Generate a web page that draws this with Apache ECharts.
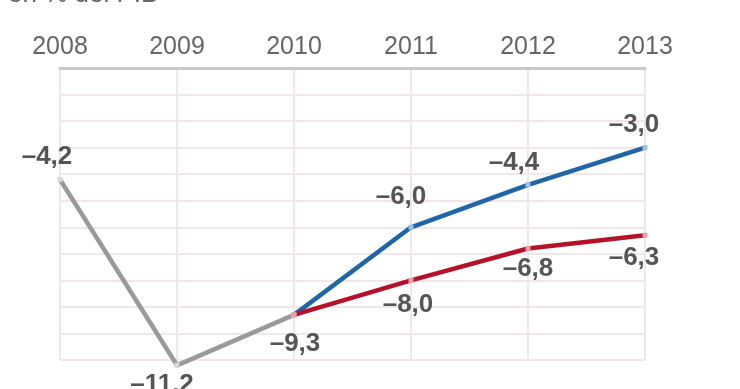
<!DOCTYPE html>
<html><head><meta charset="utf-8">
<script src="https://cdn.jsdelivr.net/npm/echarts@6/dist/echarts.min.js"></script>
<style>html,body{margin:0;padding:0;background:#fff}#c{width:740px;height:389px}</style>
</head><body><div id="c"></div>
<script>
var years = ['2008','2009','2010','2011','2012','2013'];
var actual = [-4.2, -11.2, -9.3, null, null, null];
var forecastA = [null, null, -9.3, -6.0, -4.4, -3.0];
var forecastB = [null, null, -9.3, -8.0, -6.8, -6.3];
var titleText = 'en % del PIB';

// label offsets (styling only)
var offActual = [[-13,-23],[-15,20],[1,29],null,null,null];
var offA = [null,null,null,[-10,-30],[-14,-22],[-11,-23]];
var offB = [null,null,null,[-3,24],[0,20],[-11,23]];

function fmt(v){ return '\u2013' + Math.abs(v).toFixed(1).replace('.', ','); }
function build(vals, offs){
  return vals.map(function(v,i){
    if (v === null) return null;
    var o = offs[i];
    return {value: v, label: o ? {show:true, offset:o} : {show:false}};
  });
}
var labelStyle = {position:'inside', formatter:function(p){return fmt(p.value);}, fontFamily:'Liberation Sans, Arial, sans-serif', fontWeight:'bold', fontSize:26, color:'#555'};

var chart = echarts.init(document.getElementById('c'));
chart.setOption({
  animation:false,
  grid:{left:60, right:95, top:68, bottom:29},
  graphic:[{type:'text', x:8, y:-18, style:{text:titleText, fontFamily:'Liberation Sans, Arial, sans-serif', fontSize:26, fill:'#666', textVerticalAlign:'top'}}],
  xAxis:{type:'category', data:years, position:'top', boundaryGap:false,
    axisLine:{show:true, lineStyle:{color:'#c8c8c8', width:3}},
    axisTick:{show:false},
    axisLabel:{color:'#666', fontSize:25, fontFamily:'Liberation Sans, Arial, sans-serif', margin:8},
    splitLine:{show:true, lineStyle:{color:'#f1e6e8', width:2}}},
  yAxis:{type:'value', min:-11, max:0, interval:1,
    axisLine:{show:false}, axisTick:{show:false}, axisLabel:{show:false},
    splitLine:{show:true, lineStyle:{color:'#f1e6e8', width:2}}},
  series:[
    {type:'line', clip:false, data:build(actual, offActual), lineStyle:{color:'#9a9a9a', width:4.5}, symbol:'rect', symbolSize:5, itemStyle:{color:'#d8d8d8'}, label:labelStyle, z:2},
    {type:'line', clip:false, data:build(forecastA, offA), lineStyle:{color:'#1f65a8', width:4.5}, symbol:'rect', symbolSize:5, itemStyle:{color:'#9cc2e4'}, label:labelStyle, z:3},
    {type:'line', clip:false, data:build(forecastB, offB), lineStyle:{color:'#b3122a', width:4.5}, symbol:'rect', symbolSize:5, itemStyle:{color:'#e8a0ab'}, label:labelStyle, z:3}
  ]
});
</script></body></html>
